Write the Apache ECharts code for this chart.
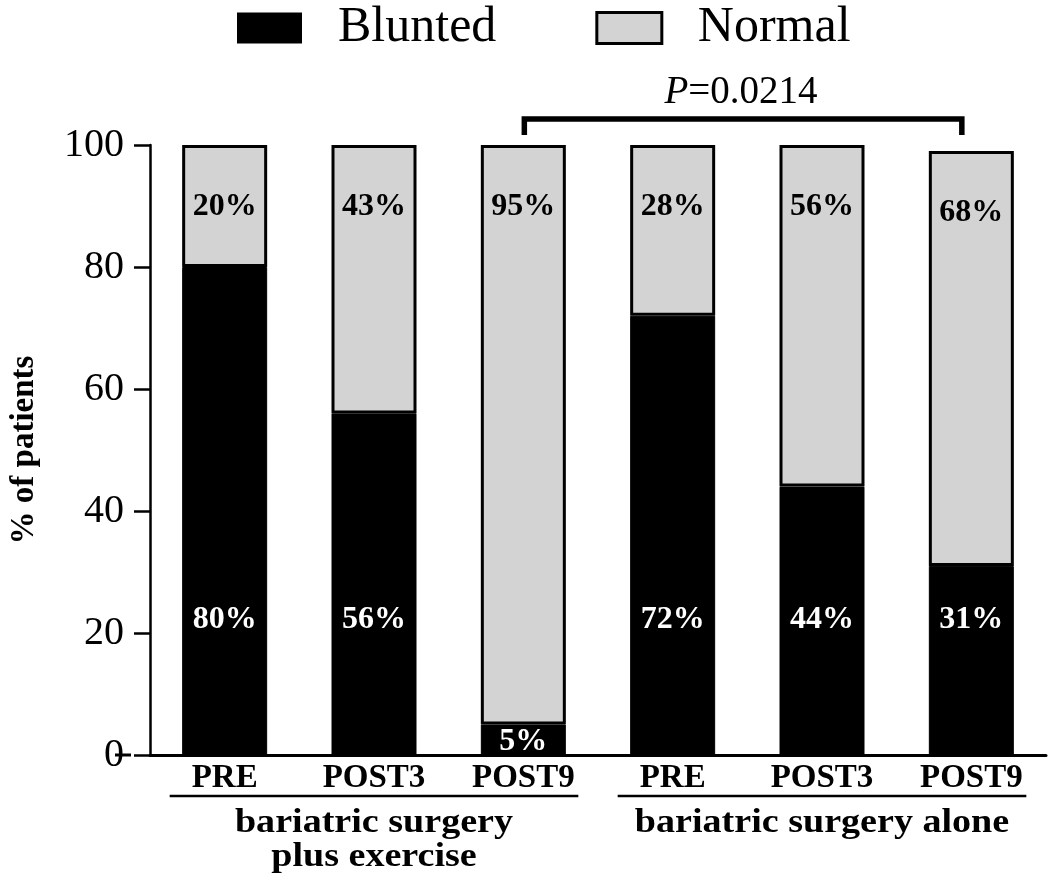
<!DOCTYPE html>
<html>
<head>
<meta charset="utf-8">
<script src="https://cdn.jsdelivr.net/npm/echarts@6/dist/echarts.min.js"></script>
<style>
html,body{margin:0;padding:0;background:#fff;}
#chart{width:1050px;height:885px;}
</style>
</head>
<body>
<div id="chart"></div>
<script>
// ---- data ----
const categories = ['PRE', 'POST3', 'POST9', 'PRE', 'POST3', 'POST9'];
const blunted = [80, 56, 5, 72, 44, 31];
const normal = [20, 44, 95, 28, 56, 68];
const bluntedLabels = ['80%', '56%', '5%', '72%', '44%', '31%'];
const normalLabels = ['20%', '43%', '95%', '28%', '56%', '68%'];
const yTicks = [0, 20, 40, 60, 80, 100];
const groups = [
  { lines: ['bariatric surgery', 'plus exercise'], from: 0, to: 2 },
  { lines: ['bariatric surgery alone'], from: 3, to: 5 }
];
const pValue = '0.0214';
const compareFrom = 2, compareTo = 5;

const SERIF = "'Liberation Serif', 'Times New Roman', serif";
const GRAY = '#d3d3d3';

const chart = echarts.init(document.getElementById('chart'), null, { renderer: 'canvas' });

const option = {
  backgroundColor: '#fff',
  animation: false,
  legend: {
    left: 237,
    top: 3,
    padding: 0,
    itemWidth: 65,
    itemHeight: 31,
    itemGap: 99,
    textStyle: { fontFamily: SERIF, fontSize: 50, color: '#000', padding: [0, 0, 0, 31] },
    data: [
      { name: 'Blunted', icon: 'rect', itemStyle: { color: '#000', borderColor: '#000', borderWidth: 0 } },
      { name: 'Normal', icon: 'rect', itemStyle: { color: GRAY, borderColor: '#000', borderWidth: 3 } }
    ]
  },
  grid: { left: 131, top: 145, width: 915, height: 610, containLabel: false },
  xAxis: {
    type: 'category',
    data: categories,
    dedplication: false,
    axisLine: { lineStyle: { color: '#000', width: 3 } },
    axisTick: { show: false },
    axisLabel: { fontFamily: SERIF, fontWeight: 'bold', fontSize: 33, color: '#000', margin: 7, interval: 0 },
    splitLine: { show: false }
  },
  yAxis: {
    type: 'value',
    min: yTicks[0],
    max: yTicks[yTicks.length - 1],
    interval: yTicks[1] - yTicks[0],
    name: '% of patients',
    nameLocation: 'middle',
    nameRotate: 90,
    nameGap: 109,
    nameTextStyle: { fontFamily: SERIF, fontWeight: 'bold', fontSize: 33, color: '#000' },
    axisLine: { show: true, lineStyle: { color: '#000', width: 2.5 } },
    axisTick: { show: true, inside: false, length: 16, lineStyle: { color: '#000', width: 2.5 } },
    axisLabel: { fontFamily: SERIF, fontSize: 40, color: '#000', margin: 26 },
    splitLine: { show: false }
  },
  series: [
    {
      name: 'Blunted',
      type: 'bar',
      stack: 'total',
      barWidth: 85,
      itemStyle: { color: '#000', borderColor: '#000', borderWidth: 1 },
      label: {
        show: true,
        position: 'insideBottom',
        distance: 119,
        color: '#fff',
        fontFamily: SERIF,
        fontWeight: 'bold',
        fontSize: 32,
        formatter: p => bluntedLabels[p.dataIndex]
      },
      data: blunted.map((v, i) => v < 10 ? { value: v, label: { distance: -3 } } : v)
    },
    {
      name: 'Normal',
      type: 'bar',
      stack: 'total',
      barWidth: 85,
      itemStyle: { color: GRAY, borderColor: '#000', borderWidth: 3 },
      label: {
        show: true,
        position: 'insideTop',
        distance: 46,
        color: '#000',
        fontFamily: SERIF,
        fontWeight: 'bold',
        fontSize: 32,
        formatter: p => normalLabels[p.dataIndex]
      },
      data: normal
    }
  ]
};

chart.setOption(option);

// ---- annotations positioned through the chart's own scales ----
function px(i) { return chart.convertToPixel({ xAxisIndex: 0 }, i); }
function py(v) { return chart.convertToPixel({ yAxisIndex: 0 }, v); }

const y0 = py(0);
const elements = [];

// x-axis line continues slightly left of the y axis
elements.push({
  type: 'line', silent: true,
  shape: { x1: 115, y1: y0, x2: 131, y2: y0 },
  style: { stroke: '#000', lineWidth: 3 }
});

// group underlines and labels
groups.forEach(g => {
  const xa = px(g.from) - 55, xb = px(g.to) + 55;
  const cx = (xa + xb) / 2;
  elements.push({
    type: 'line', silent: true,
    shape: { x1: xa, y1: y0 + 41, x2: xb, y2: y0 + 41 },
    style: { stroke: '#000', lineWidth: 2.5 }
  });
  g.lines.forEach((t, k) => {
    elements.push({
      type: 'text', silent: true,
      x: cx, y: y0 + 68 + k * 34,
      scaleX: 1.12,
      style: {
        text: t, x: 0, y: 0, align: 'center', verticalAlign: 'middle',
        font: "bold 34px 'Liberation Serif', 'Times New Roman', serif",
        fill: '#000'
      }
    });
  });
});

// significance bracket
const bx1 = px(compareFrom) + 1, bx2 = px(compareTo) - 9.5;
const bTop = py(100) - 26, bLeg = py(100) - 10;
elements.push({
  type: 'polyline', silent: true,
  shape: { points: [[bx1, bLeg], [bx1, bTop], [bx2, bTop], [bx2, bLeg]] },
  style: { stroke: '#000', lineWidth: 5.5, fill: null, lineJoin: 'miter' }
});
elements.push({
  type: 'text', silent: true,
  x: (bx1 + bx2) / 2 - 2, y: bTop - 26,
  style: {
    text: '{i|P}{n|=' + pValue + '}',
    x: 0, y: 0, align: 'center', verticalAlign: 'middle',
    rich: {
      i: { fontFamily: SERIF, fontStyle: 'italic', fontSize: 39, fill: '#000', color: '#000' },
      n: { fontFamily: SERIF, fontSize: 39, fill: '#000', color: '#000' }
    }
  }
});

chart.setOption({ graphic: { elements: elements } });
</script>
</body>
</html>
